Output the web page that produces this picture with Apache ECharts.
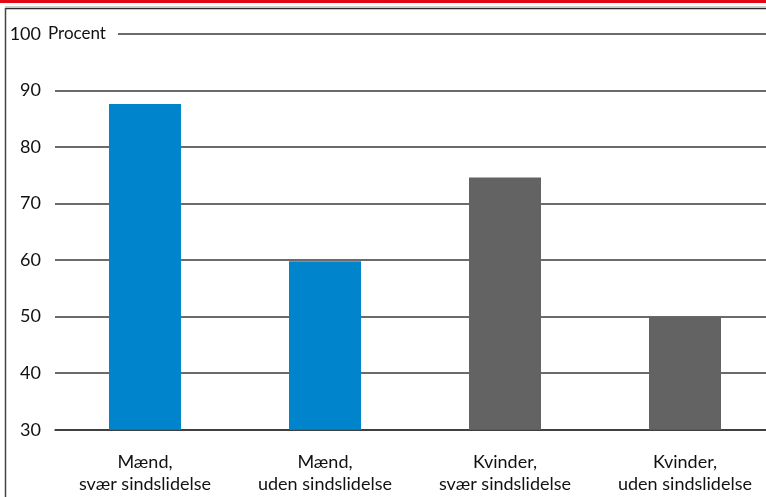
<!DOCTYPE html>
<html>
<head>
<meta charset="utf-8">
<script src="https://cdn.jsdelivr.net/npm/echarts@6/dist/echarts.min.js"></script>
<style>
html,body{margin:0;padding:0;background:#fff;}
#c{width:766px;height:497px;}
</style>
</head>
<body>
<div id="c"></div>
<script>
const categories = ['Mænd,\nsvær sindslidelse', 'Mænd,\nuden sindslidelse', 'Kvinder,\nsvær sindslidelse', 'Kvinder,\nuden sindslidelse'];
const values = [87.6, 59.8, 74.6, 50.0];
const barColors = ['#0084CC', '#0084CC', '#636363', '#636363'];
const yTicks = { min: 30, max: 100, interval: 10 };
const unitLabel = 'Procent';

const FONT = 'Lato';
const chart = echarts.init(document.getElementById('c'));
chart.setOption({
  animation: false,
  backgroundColor: '#fff',
  grid: { left: 55, top: 34, width: 720, height: 395.7, containLabel: false, outerBoundsMode: 'none' },
  xAxis: {
    type: 'category',
    data: categories,
    axisLine: { show: true, lineStyle: { color: '#333', width: 1.5 } },
    axisTick: { show: false },
    axisLabel: { color: '#111', fontFamily: FONT, fontSize: 18, lineHeight: 22, margin: 21, interval: 0, hideOverlap: false }
  },
  yAxis: {
    type: 'value',
    min: yTicks.min, max: yTicks.max, interval: yTicks.interval,
    axisLine: { show: false },
    axisTick: { show: false },
    axisLabel: { color: '#111', fontFamily: FONT, fontSize: 18, margin: 14 },
    splitLine: { show: true, lineStyle: { color: '#3a3a3a', width: 1.5 } }
  },
  series: [{
    type: 'bar',
    data: values.map((v, i) => ({ value: v, itemStyle: { color: barColors[i] } })),
    barCategoryGap: '60%',
    z: 1
  }],
  graphic: [
    { type: 'rect', shape: { x: 0, y: 0, width: 766, height: 3 }, style: { fill: '#e30613' }, z: 100 },
    { type: 'line', shape: { x1: 5, y1: 6.5, x2: 766, y2: 6.5 }, style: { stroke: '#d0d0d0', lineWidth: 1 }, z: 100 },
    { type: 'line', shape: { x1: 5, y1: 8.5, x2: 766, y2: 8.5 }, style: { stroke: '#2a2a2a', lineWidth: 1.5 }, z: 100 },
    { type: 'line', shape: { x1: 5.5, y1: 8, x2: 5.5, y2: 497 }, style: { stroke: '#444', lineWidth: 1.5 }, z: 100 },
    { type: 'text', left: 48, top: 23, z: 100,
      style: { text: unitLabel, fill: '#111', font: '17px ' + FONT, backgroundColor: '#fff', padding: [2, 12, 2, 0] } }
  ]
});
</script>
</body>
</html>
